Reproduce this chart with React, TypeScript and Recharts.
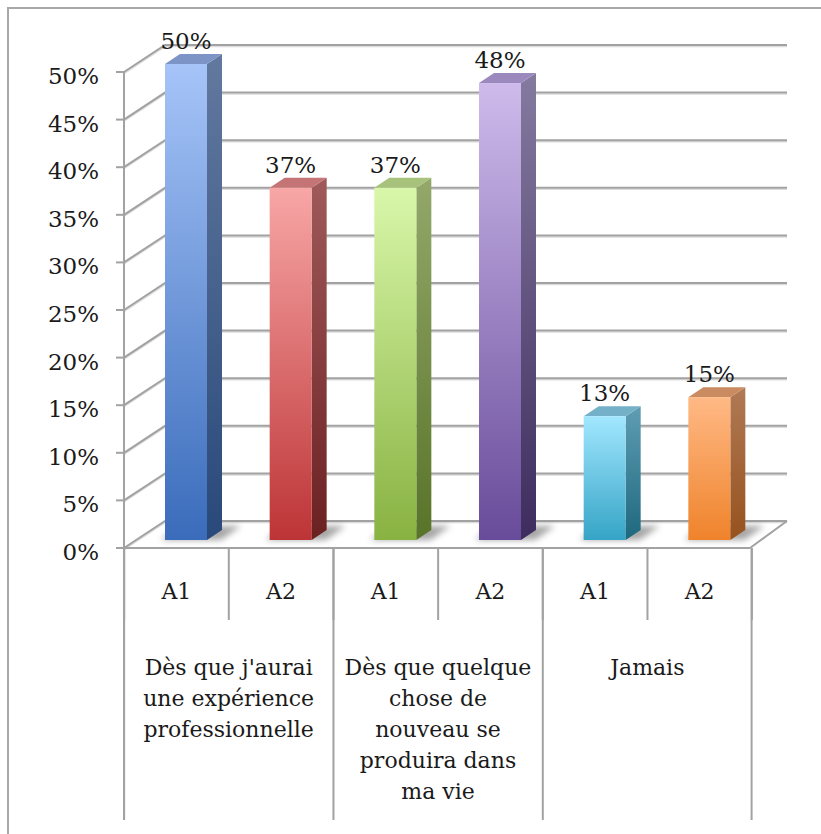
import React from 'react';
import { BarChart, Bar, XAxis, YAxis, CartesianGrid, LabelList } from 'recharts';

// ---------- data ----------
const subLabels = ['A1', 'A2', 'A1', 'A2', 'A1', 'A2'];
const groupLabels = [
  "Dès que j'aurai une expérience professionnelle",
  'Dès que quelque chose de nouveau se produira dans ma vie',
  'Jamais',
];
const groupLines = [
  ["Dès que j'aurai", 'une expérience', 'professionnelle'],
  ['Dès que quelque', 'chose de', 'nouveau se', 'produira dans', 'ma vie'],
  ['Jamais'],
];
const values = [50, 37, 37, 48, 13, 15];
const yTicks = [0, 5, 10, 15, 20, 25, 30, 35, 40, 45, 50];

const data = values.map((v, i) => ({
  sub: subLabels[i],
  group: groupLabels[Math.floor(i / 2)],
  value: v,
}));

// ---------- styling ----------
const CHART_W = 821;
const CHART_H = 834;
const PLOT = { top: 64, right: 59, bottom: 294, left: 134 };
// axes take 1px each; margins compensate so the plot area stays as above
const M = { top: PLOT.top, right: PLOT.right, bottom: PLOT.bottom - 2, left: PLOT.left - 1 };
const PLOT_BOTTOM = CHART_H - PLOT.bottom;
const FRONT_DX = -10;
const FRONT_DY = 8;
const BACK_DX_L = 31;
const BACK_DX_R = 25;
const BACK_DY = -19;
const HALF_BAND = (CHART_W - PLOT.left - PLOT.right) / values.length / 2;
const FRONT_HALF = 52.2;
const SUB_LINE_BOTTOM = 620;
const TABLE_BOTTOM = 820;
const DEPTH_X = 15;
const DEPTH_Y = -10;
const GRID = '#a2a2a2';
const FONT = 'DejaVu Serif';
const TEXT = '#1a1a1a';

const palette = [
  { top: '#a6c4f8', bottom: '#3a6cbb', sideTop: '#62799f', sideBottom: '#29497a', cap: '#7c94c6' },
  { top: '#f8a6a6', bottom: '#bd3436', sideTop: '#a05a5a', sideBottom: '#6c2121', cap: '#c47474' },
  { top: '#d9f7aa', bottom: '#88b241', sideTop: '#93a86a', sideBottom: '#587428', cap: '#a7c27b' },
  { top: '#cebbeb', bottom: '#684b9a', sideTop: '#857aa0', sideBottom: '#3d2c5d', cap: '#9b89be' },
  { top: '#a2e7ff', bottom: '#35a4c6', sideTop: '#5f9db3', sideBottom: '#1e687e', cap: '#74b1c8' },
  { top: '#ffb985', bottom: '#ef832b', sideTop: '#b07a55', sideBottom: '#96521e', cap: '#c98b5f' },
];

const GridLine = (props: any) => {
  const { x1, x2, y1 } = props;
  const fx = x1 + FRONT_DX;
  const fy = y1 + FRONT_DY;
  const bxL = x1 + BACK_DX_L;
  const bxR = x2 + BACK_DX_R;
  const by = y1 + BACK_DY;
  const isFloor = Math.abs(y1 - PLOT_BOTTOM) < 0.5;
  const isTop = Math.abs(y1 - PLOT.top) < 0.5;
  const frontR = x2 - 12;
  return (
    <g>
      {isFloor && (
        <polygon
          points={`${fx},${fy} ${frontR},${fy} ${bxR},${by} ${bxL},${by}`}
          fill="#ffffff"
        />
      )}
      <polyline
        points={`${fx},${fy + 1.5} ${bxL},${by + 1.5} ${bxR},${by + 1.5}`}
        fill="none"
        stroke="#dcdcdc"
        strokeWidth={1.5}
      />
      <polyline
        points={`${fx},${fy} ${bxL},${by} ${bxR},${by}`}
        fill="none"
        stroke={GRID}
        strokeWidth={2}
      />
      {isFloor && (
        <g>
          <line x1={fx} y1={fy} x2={frontR} y2={fy} stroke={GRID} strokeWidth={2} />
          <line x1={frontR} y1={fy} x2={bxR} y2={by} stroke={GRID} strokeWidth={2} />
        </g>
      )}
      {isTop && (
        <line x1={fx} y1={fy} x2={fx} y2={TABLE_BOTTOM} stroke={GRID} strokeWidth={2} />
      )}
    </g>
  );
};

const YTick = (props: any) => {
  const { y, payload } = props;
  const fx = PLOT.left + FRONT_DX;
  const fy = y + FRONT_DY;
  return (
    <g>
      <line x1={fx - 8} y1={fy} x2={fx} y2={fy} stroke={GRID} strokeWidth={2} />
      <text
        x={fx - 25}
        y={fy + 12}
        textAnchor="end"
        fontFamily={FONT}
        fontSize={23}
        fill={TEXT}
      >
        {`${payload.value}%`}
      </text>
    </g>
  );
};

const SubTick = (props: any) => {
  const { x, payload, index } = props;
  const cx = x + FRONT_DX;
  const fy = PLOT_BOTTOM + FRONT_DY;
  return (
    <g>
      <line x1={cx - FRONT_HALF} y1={fy} x2={cx - FRONT_HALF} y2={SUB_LINE_BOTTOM} stroke={GRID} strokeWidth={2} />
      {index === values.length - 1 && (
        <line x1={cx + FRONT_HALF} y1={fy} x2={cx + FRONT_HALF} y2={SUB_LINE_BOTTOM} stroke={GRID} strokeWidth={2} />
      )}
      <text x={cx} y={599} textAnchor="middle" fontFamily={FONT} fontSize={22} fill={TEXT}>
        {payload.value}
      </text>
    </g>
  );
};

const GroupTick = (props: any) => {
  const { x, index } = props;
  if (index % 2 !== 0) return <g />;
  const left = x + FRONT_DX - FRONT_HALF;
  const cx = x + FRONT_DX + HALF_BAND;
  const right = left + FRONT_HALF * 4;
  const fy = PLOT_BOTTOM + FRONT_DY;
  const lines = groupLines[index / 2];
  return (
    <g>
      <line x1={left} y1={fy} x2={left} y2={TABLE_BOTTOM} stroke={GRID} strokeWidth={2} />
      {index === values.length - 2 && (
        <line x1={right} y1={fy} x2={right} y2={TABLE_BOTTOM} stroke={GRID} strokeWidth={2} />
      )}
      <text textAnchor="middle" fontFamily={FONT} fontSize={22} fill={TEXT}>
        {lines.map((ln, i) => (
          <tspan key={i} x={cx} y={675 + i * 31}>
            {ln}
          </tspan>
        ))}
      </text>
    </g>
  );
};

const Bar3D = (props: any) => {
  const { x, y, width, height, index } = props;
  const c = palette[index % palette.length];
  const gid = `bar-grad-${index}`;
  const sid = `bar-side-${index}`;
  const fid = `bar-shadow-${index}`;
  const b = y + height;
  return (
    <g>
      <defs>
        <linearGradient id={gid} x1="0" y1="0" x2="0" y2="1">
          <stop offset="0%" stopColor={c.top} />
          <stop offset="100%" stopColor={c.bottom} />
        </linearGradient>
        <linearGradient id={sid} x1="0" y1="0" x2="0" y2="1">
          <stop offset="0%" stopColor={c.sideTop} />
          <stop offset="100%" stopColor={c.sideBottom} />
        </linearGradient>
        <filter id={fid} x="-50%" y="-50%" width="200%" height="200%">
          <feGaussianBlur stdDeviation={3} />
        </filter>
      </defs>
      <polygon
        points={`${x - 4},${b} ${x + width + 14},${b} ${x + width + 34},${b - 14} ${x + 14},${b - 14}`}
        fill="rgba(0,0,0,0.35)"
        filter={`url(#${fid})`}
      />
      <polygon
        points={`${x + width},${y} ${x + width + DEPTH_X},${y + DEPTH_Y} ${x + width + DEPTH_X},${b + DEPTH_Y} ${x + width},${b}`}
        fill={`url(#${sid})`}
      />
      <polygon
        points={`${x},${y} ${x + DEPTH_X},${y + DEPTH_Y} ${x + width + DEPTH_X},${y + DEPTH_Y} ${x + width},${y}`}
        fill={c.cap}
      />
      <rect x={x} y={y} width={width} height={height} fill={`url(#${gid})`} />
    </g>
  );
};

const ValueLabel = (props: any) => {
  const { x, y, width, value } = props;
  return (
    <text x={x + width / 2} y={y - 15} textAnchor="middle" fontFamily={FONT} fontSize={23} fill={TEXT}>
      {`${value}%`}
    </text>
  );
};

export default function App() {
  return (
    <div style={{ position: 'fixed', left: 0, top: 0, width: CHART_W, height: CHART_H, background: '#fff', overflow: 'hidden' }}>
      <div
        style={{
          position: 'absolute',
          left: 7,
          top: 7,
          width: 900,
          height: 900,
          borderLeft: '2px solid #a8a8a8',
          borderTop: '2px solid #a8a8a8',
        }}
      />
      <div style={{ position: 'absolute', left: 0, top: 0 }}>
        <BarChart width={CHART_W} height={CHART_H} data={data} margin={M}>
          <CartesianGrid vertical={false} horizontal={(p: any) => <GridLine key={p.key ?? p.index} {...p} />} />
          <XAxis
            dataKey="sub"
            height={1}
            axisLine={false}
            tickLine={false}
            interval={0}
            tick={<SubTick />}
          />
          <XAxis
            xAxisId="grp"
            dataKey="group"
            height={1}
            axisLine={false}
            tickLine={false}
            interval={0}
            tick={<GroupTick />}
          />
          <YAxis
            width={1}
            domain={[0, 50]}
            ticks={yTicks}
            interval={0}
            axisLine={false}
            tickLine={false}
            tick={<YTick />}
          />
          <Bar dataKey="value" barSize={42} shape={<Bar3D />} isAnimationActive={false}>
            <LabelList dataKey="value" content={<ValueLabel />} />
          </Bar>
        </BarChart>
      </div>
    </div>
  );
}
